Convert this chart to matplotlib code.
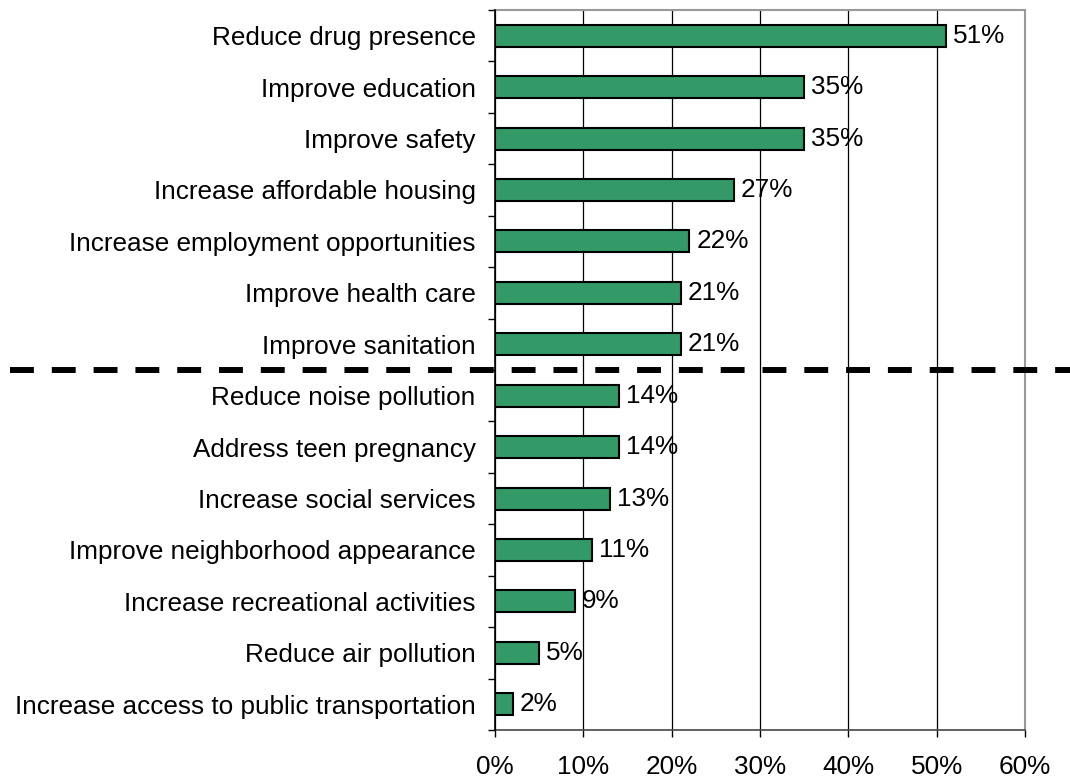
import numpy as np
import matplotlib.pyplot as plt
from matplotlib.lines import Line2D

plt.rcParams['font.family'] = ['Liberation Sans', 'DejaVu Sans']

categories = [
    'Reduce drug presence',
    'Improve education',
    'Improve safety',
    'Increase affordable housing',
    'Increase employment opportunities',
    'Improve health care',
    'Improve sanitation',
    'Reduce noise pollution',
    'Address teen pregnancy',
    'Increase social services',
    'Improve neighborhood appearance',
    'Increase recreational activities',
    'Reduce air pollution',
    'Increase access to public transportation',
]
percent = [51, 35, 35, 27, 22, 21, 21, 14, 14, 13, 11, 9, 5, 2]
x_ticks = [0, 10, 20, 30, 40, 50, 60]
split_after = 7  # dashed separator below the top group

fs = 18.8

fig = plt.figure(figsize=(10.7, 7.8), dpi=100)
ax = fig.add_axes([495 / 1070, 50 / 780, 530 / 1070, 720 / 780])

y = np.arange(len(categories))
ax.barh(y, percent, height=0.43, color='#339966', edgecolor='black',
        linewidth=1.5, zorder=3)
for yi, v in zip(y, percent):
    ax.text(v + 0.8, yi, f'{v}%', va='center', ha='left', fontsize=fs, zorder=4)

ax.set_xlim(0, 60)
ax.set_ylim(len(categories) - 0.5, -0.5)
ax.set_xticks(x_ticks)
ax.set_xticklabels([f'{t}%' for t in x_ticks], fontsize=fs)
ax.tick_params(axis='x', length=5, width=1, pad=13, color='black')

# category labels between boundary ticks
ax.set_yticks(np.arange(len(categories) + 1) - 0.5)
ax.set_yticklabels([])
ax.set_yticks(y, minor=True)
ax.set_yticklabels(categories, minor=True, fontsize=fs)
ax.tick_params(axis='y', which='major', length=5, width=1, color='black')
ax.tick_params(axis='y', which='minor', length=0, pad=14)

ax.grid(axis='x', color='black', linewidth=0.9, zorder=0)
for side in ['top', 'right']:
    ax.spines[side].set_color('#999999')
    ax.spines[side].set_linewidth(1.5)
ax.spines['bottom'].set_color('#444444')
ax.spines['bottom'].set_linewidth(1.2)
ax.spines['left'].set_color('black')
ax.spines['left'].set_linewidth(1.2)
ax.spines['left'].set_zorder(5)

# separator spanning the whole figure width at the group boundary
sep_y = split_after - 0.5
y_fig = fig.transFigure.inverted().transform(ax.transData.transform((0, sep_y)))[1]
fig.add_artist(Line2D([10 / 1070, 1.0], [y_fig, y_fig], color='black',
                      linewidth=4.3, linestyle=(0, (4, 3)),
                      solid_capstyle='butt', dash_capstyle='butt', zorder=10))

fig.savefig('out.png', dpi=100)
